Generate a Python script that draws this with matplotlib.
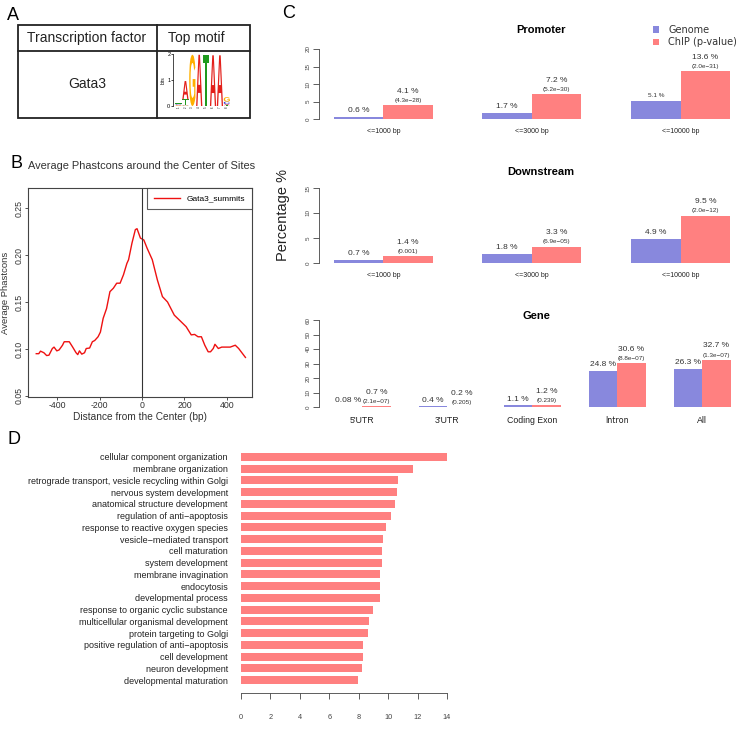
import numpy as np
import matplotlib
matplotlib.use("Agg")
import matplotlib.pyplot as plt
from matplotlib.textpath import TextPath
from matplotlib.patches import PathPatch, Rectangle
from matplotlib.font_manager import FontProperties
from matplotlib.transforms import Affine2D

# ---- data ----
logo_bases = ["A", "C", "G", "T"]
logo_bits = [
    [0.02, 0.03, 0.02, 0.03],
    [0.70, 0.02, 0.02, 0.22],
    [0.00, 0.00, 1.97, 0.00],
    [1.97, 0.00, 0.00, 0.00],
    [0.00, 0.00, 0.00, 1.95],
    [1.95, 0.00, 0.00, 0.00],
    [1.95, 0.00, 0.00, 0.00],
    [0.04, 0.10, 0.17, 0.03],
]
logo_colors = {"A": "#E3201B", "C": "#3A3AD0", "G": "#FFB000", "T": "#1E9A1E"}

phast_x = [-500, -488, -480, -464, -451, -440, -424, -416, -403, -392, -376, -368,
           -344, -328, -312, -304, -296, -285, -272, -264, -248, -235, -224, -208,
           -197, -184, -168, -152, -136, -120, -104, -88, -72, -64, -48, -32, -24,
           -16, -8, 8, 24, 48, 72, 96, 120, 152, 184, 208, 232, 248, 264, 280, 296,
           312, 323, 336, 344, 360, 376, 416, 440, 456, 488]
phast_y = [0.095, 0.095, 0.0977, 0.096, 0.093, 0.0934, 0.1005, 0.102, 0.098, 0.099,
           0.104, 0.1077, 0.1077, 0.102, 0.096, 0.094, 0.098, 0.0945, 0.096, 0.1005,
           0.101, 0.1077, 0.109, 0.113, 0.118, 0.1326, 0.143, 0.161, 0.1646, 0.170,
           0.170, 0.179, 0.191, 0.195, 0.2126, 0.227, 0.228, 0.223, 0.218, 0.216,
           0.207, 0.195, 0.1735, 0.1557, 0.150, 0.136, 0.129, 0.1237, 0.115, 0.1155,
           0.113, 0.113, 0.104, 0.097, 0.097, 0.1005, 0.105, 0.1005, 0.102, 0.102,
           0.104, 0.1005, 0.091]

dist_cats = ["<=1000 bp", "<=3000 bp", "<=10000 bp"]
promoter_genome = [0.6, 1.7, 5.1]
promoter_chip = [4.1, 7.2, 13.6]
promoter_p = ["4.3e\u221228", "5.2e\u221230", "2.0e\u221231"]
downstream_genome = [0.7, 1.8, 4.9]
downstream_chip = [1.4, 3.3, 9.5]
downstream_p = ["0.001", "6.9e\u221205", "2.0e\u221212"]
gene_cats = ["5'UTR", "3'UTR", "Coding Exon", "Intron", "All"]
gene_genome = [0.08, 0.4, 1.1, 24.8, 26.3]
gene_chip = [0.7, 0.2, 1.2, 30.6, 32.7]
gene_p = ["2.1e\u221207", "0.205", "0.239", "8.8e\u221207", "1.3e\u221207"]

go_terms = [
    "cellular component organization", "membrane organization",
    "retrograde transport, vesicle recycling within Golgi",
    "nervous system development", "anatomical structure development",
    "regulation of anti\u2212apoptosis", "response to reactive oxygen species",
    "vesicle\u2212mediated transport", "cell maturation", "system development",
    "membrane invagination", "endocytosis", "developmental process",
    "response to organic cyclic substance", "multicellular organismal development",
    "protein targeting to Golgi", "positive regulation of anti\u2212apoptosis",
    "cell development", "neuron development", "developmental maturation",
]
go_scores = [14.05, 11.67, 10.65, 10.63, 10.49, 10.17, 9.83, 9.65, 9.56, 9.56,
             9.47, 9.47, 9.43, 8.97, 8.72, 8.61, 8.31, 8.27, 8.25, 7.93]

BLUE = "#8888DD"
RED = "#FF8080"
W, H = 736, 737

plt.rcParams["font.family"] = ["Liberation Sans", "DejaVu Sans"]
plt.rcParams["axes.unicode_minus"] = False
fig = plt.figure(figsize=(W / 100, H / 100), dpi=100)


def px_axes(x0, y0, x1, y1):
    return fig.add_axes([x0 / W, 1 - y1 / H, (x1 - x0) / W, (y1 - y0) / H])


def px_text(x, y, s, **kw):
    fig.text(x / W, 1 - y / H, s, **kw)


# canvas for table lines
canvas = fig.add_axes([0, 0, 1, 1])
canvas.set_xlim(0, W)
canvas.set_ylim(H, 0)
canvas.axis("off")
canvas.add_patch(Rectangle((18, 25), 232, 93, fill=False, lw=1.3, ec="#222222"))
canvas.plot([18, 250], [50.5, 50.5], color="#222222", lw=1.3)
canvas.plot([157, 157], [25, 118], color="#222222", lw=1.3)

# panel letters
for lab, x, y in [("A", 13, 15), ("B", 16, 163), ("C", 289, 14), ("D", 14, 440)]:
    px_text(x, y, lab, fontsize=13, ha="center", va="center")

# ---- A: table ----
px_text(87, 38, "Transcription factor", fontsize=10, ha="center", va="center", color="#222222")
px_text(168, 38, "Top motif", fontsize=10, ha="left", va="center", color="#222222")
px_text(87, 84, "Gata3", fontsize=10, ha="center", va="center", color="#222222")

logo_ax = px_axes(173, 54, 232, 106)
fp = FontProperties(family="Liberation Sans", weight="bold")


def draw_letter(ax, ch, x, y, w, h, color):
    tp = TextPath((0, 0), ch, size=1, prop=fp)
    bb = tp.get_extents()
    tr = Affine2D().translate(-bb.x0, -bb.y0).scale(w / bb.width, h / bb.height).translate(x, y)
    ax.add_patch(PathPatch(tr.transform_path(tp), fc=color, ec="none"))


for i, col in enumerate(logo_bits):
    base = 0.0
    for b, h in sorted(zip(logo_bases, col), key=lambda t: t[1]):
        if h <= 0:
            continue
        draw_letter(logo_ax, b, i + 1 - 0.45, base, 0.9, h, logo_colors[b])
        base += h
logo_ax.set_xlim(0.2, 8.75)
logo_ax.set_ylim(0, 2)
for s in ["top", "right", "bottom"]:
    logo_ax.spines[s].set_visible(False)
logo_ax.spines["left"].set_linewidth(0.5)
logo_ax.set_yticks([0, 1, 2])
logo_ax.tick_params(axis="y", labelsize=4, length=1.5, width=0.5, pad=0.5)
logo_ax.set_xticks(range(1, 9))
logo_ax.set_xticklabels([str(i) for i in range(1, 9)], fontsize=2, rotation=90)
logo_ax.tick_params(axis="x", length=0, pad=0.5)
logo_ax.set_ylabel("bits", fontsize=3.5, labelpad=1)
logo_ax.patch.set_visible(False)

# ---- B: phastcons ----
axb = px_axes(28, 188, 252, 397)
axb.plot(phast_x, phast_y, color="#EE1111", lw=1.0, label="Gata3_summits")
axb.axvline(0, color="#333333", lw=0.8)
axb.set_xlim(-539, 519)
axb.set_ylim(0.0489, 0.2713)
axb.set_xticks([-400, -200, 0, 200, 400])
axb.set_yticks([0.05, 0.10, 0.15, 0.20, 0.25])
axb.set_yticklabels(["0.05", "0.10", "0.15", "0.20", "0.25"], rotation=90, va="center")
axb.tick_params(labelsize=6.3, length=2.2, width=0.6, pad=1, colors="#333333")
for s in axb.spines.values():
    s.set_linewidth(0.8)
    s.set_color("#444444")
axb.set_xlabel("Distance from the Center (bp)", fontsize=7.3, labelpad=1, color="#333333")
axb.set_ylabel("Average Phastcons", fontsize=6.8, labelpad=3, color="#333333")
leg = axb.legend(loc="upper right", fontsize=6, borderaxespad=0, fancybox=False,
                 edgecolor="#333333", handlelength=3.2, borderpad=0.8)
leg.get_frame().set_linewidth(0.8)
px_text(28, 166, "Average Phastcons around the Center of Sites", fontsize=7.9,
        ha="left", va="center", color="#333333")


# ---- C: grouped bars ----
def group_bars(ax, genome, chip, pvals, cats, yticks, cat_fs, blue_fs=None):
    n = len(genome)
    left = np.arange(n) * 3 + 1
    ax.bar(left, genome, width=1, align="edge", color=BLUE, label="Genome")
    ax.bar(left + 1, chip, width=1, align="edge", color=RED, label="ChIP (p-value)")
    for i in range(n):
        fs = 6 if blue_fs is None else blue_fs[i]
        ax.annotate(f"{genome[i]} %", (left[i] + 0.5, genome[i]), xytext=(0, 4.5 if fs > 5 else 3.8),
                    textcoords="offset points", ha="center", va="center", fontsize=fs,
                    color="#333333", annotation_clip=False)
        ax.annotate(f"({pvals[i]})", (left[i] + 1.5, chip[i]), xytext=(0, 3.3),
                    textcoords="offset points", ha="center", va="center", fontsize=4.6,
                    color="#333333", annotation_clip=False)
        ax.annotate(f"{chip[i]} %", (left[i] + 1.5, chip[i]), xytext=(0, 9.8),
                    textcoords="offset points", ha="center", va="center", fontsize=6,
                    color="#333333", annotation_clip=False)
    ax.set_xticks(left + 1)
    ax.set_xticklabels(cats, fontsize=cat_fs, color="#222222")
    ax.tick_params(axis="x", length=0, pad=6.5)
    ax.set_yticks(yticks)
    ax.set_yticklabels([str(t) for t in yticks], rotation=90, va="center", fontsize=4.5,
                       color="#444444")
    ax.tick_params(axis="y", length=4, width=0.6, pad=2, color="#444444")
    ax.set_ylim(0, yticks[-1])
    for s in ["top", "right", "bottom"]:
        ax.spines[s].set_visible(False)
    ax.spines["left"].set_linewidth(0.6)
    ax.spines["left"].set_color("#444444")
    ax.spines["left"].set_bounds(0, yticks[-1])
    ax.patch.set_visible(False)


axp = px_axes(319, 49, 736, 119)
group_bars(axp, promoter_genome, promoter_chip, promoter_p, dist_cats, [0, 5, 10, 15, 20],
           5, blue_fs=[6, 6, 4.6])
axp.set_xlim(0.70, 9.12)

axd = px_axes(319, 188, 736, 263)
group_bars(axd, downstream_genome, downstream_chip, downstream_p, dist_cats, [0, 5, 10, 15], 5)
axd.set_xlim(0.70, 9.12)

axg = px_axes(319, 320, 736, 407)
group_bars(axg, gene_genome, gene_chip, gene_p, gene_cats, [0, 10, 20, 30, 40, 50, 60], 6.3)
axg.set_xlim(0.47, 15.19)
axg.get_xticklabels()[3].set_fontfamily("DejaVu Sans")
axg.get_xticklabels()[3].set_fontsize(5.8)

px_text(541, 30, "Promoter", fontsize=8, fontweight="bold", ha="center", va="center")
px_text(541, 172, "Downstream", fontsize=8, fontweight="bold", ha="center", va="center")
px_text(536, 316, "Gene", fontsize=8, fontweight="bold", ha="center", va="center")
px_text(283, 215, "Percentage %", fontsize=10.5, rotation=90, ha="center", va="center",
        color="#222222")

axp.legend(loc="upper left", bbox_to_anchor=(648 / W, 1 - 20 / H), bbox_transform=fig.transFigure,
           frameon=False, prop={"family": "DejaVu Sans", "size": 7},
           handlelength=0.6, handleheight=0.6, handletextpad=1.0, labelspacing=0.25,
           borderpad=0, labelcolor="#333333")

# ---- D: GO terms ----
axo = px_axes(241, 447, 447, 693)
ypos = np.arange(len(go_terms))
axo.barh(ypos, go_scores, height=0.68, color=RED)
axo.set_ylim(20.1, -0.85)
axo.set_xlim(0, 14)
axo.set_yticks(ypos)
axo.set_yticklabels(go_terms, fontsize=6.5, color="#222222")
axo.tick_params(axis="y", length=0, pad=9.4)
axo.set_xticks(range(0, 15, 2))
axo.tick_params(axis="x", labelsize=5.3, length=4.3, width=0.6, pad=11, colors="#444444")
for s in ["top", "right", "left"]:
    axo.spines[s].set_visible(False)
axo.spines["bottom"].set_linewidth(0.6)
axo.spines["bottom"].set_color("#444444")
axo.patch.set_visible(False)
px_text(345, 741, "-log10(p-value)", fontsize=6, ha="center", va="center",
        color="#444444")

fig.savefig("out.png", dpi=100)
